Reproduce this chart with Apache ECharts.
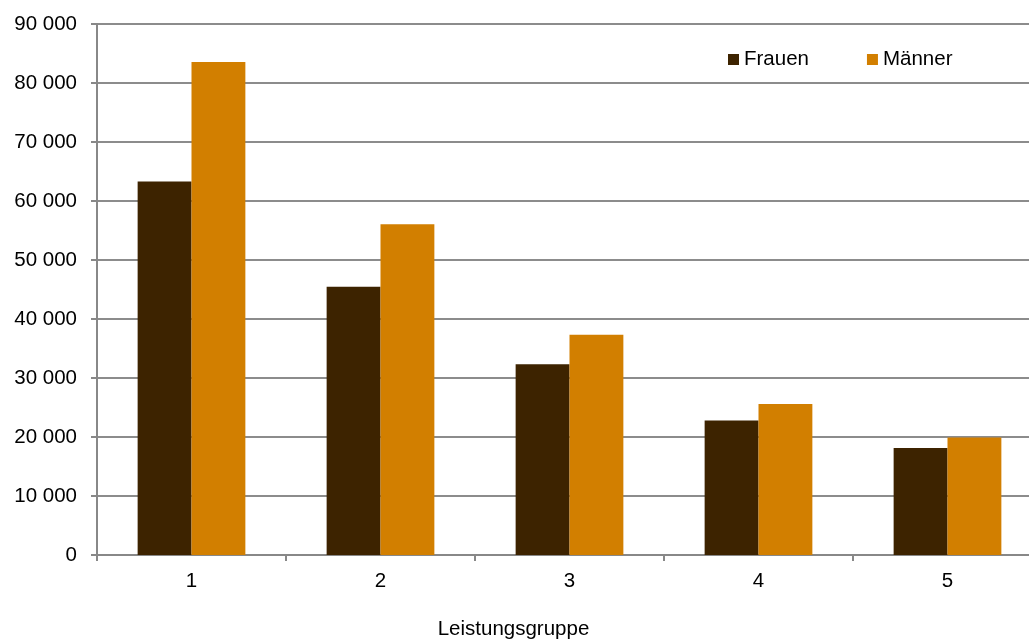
<!DOCTYPE html>
<html><head><meta charset="utf-8">
<script src="https://cdn.jsdelivr.net/npm/echarts@6/dist/echarts.min.js"></script>
<style>html,body{margin:0;padding:0;background:#fff}#c{width:1029px;height:642px}</style>
</head><body><div id="c"></div>
<script>
const categories = ['1', '2', '3', '4', '5'];
const frauen = [63300, 45450, 32330, 22780, 18150];
const maenner = [83550, 56080, 37310, 25610, 19900];
const seriesNames = ['Frauen', 'Männer'];

const chart = echarts.init(document.getElementById('c'));
const font = 'Liberation Sans, Arial, sans-serif';
const fs = 20.5;
chart.setOption({
  animation: false,
  textStyle: { fontFamily: font },
  grid: { left: 97, right: -13, top: 24, bottom: 87, containLabel: false, outerBoundsMode: 'none' },
  legend: {
    data: seriesNames, left: 723, top: 44, itemWidth: 11, itemHeight: 11, itemGap: 58,
    icon: 'rect', textStyle: { fontSize: fs, color: '#000', fontFamily: font }
  },
  xAxis: {
    type: 'category', data: categories,
    name: 'Leistungsgruppe', nameLocation: 'middle', nameGap: 64, nameMoveOverlap: false,
    nameTextStyle: { fontSize: fs, color: '#000', fontFamily: font, padding: [0, 112, 0, 0] },
    axisLine: { lineStyle: { color: '#888', width: 2 } },
    axisTick: { show: true, length: 6, lineStyle: { color: '#888', width: 2 } },
    axisLabel: { fontSize: fs, color: '#000', margin: 16, fontFamily: font }
  },
  yAxis: {
    type: 'value', min: 0, max: 90000, interval: 10000,
    axisLine: { show: true, lineStyle: { color: '#888', width: 2 } },
    axisTick: { show: true, length: 6, lineStyle: { color: '#888', width: 2 } },
    splitLine: { lineStyle: { color: '#8c8c8c', width: 2 } },
    axisLabel: { fontSize: fs, color: '#000', margin: 20, fontFamily: font,
      formatter: v => String(v).replace(/\B(?=(\d{3})+(?!\d))/g, ' ') }
  },
  series: [
    { name: seriesNames[0], type: 'bar', data: frauen, barGap: '0%', barCategoryGap: '43%',
      itemStyle: { color: '#3d2300' } },
    { name: seriesNames[1], type: 'bar', data: maenner, barGap: '0%', barCategoryGap: '43%',
      itemStyle: { color: '#d27f00' } }
  ]
});
</script></body></html>
